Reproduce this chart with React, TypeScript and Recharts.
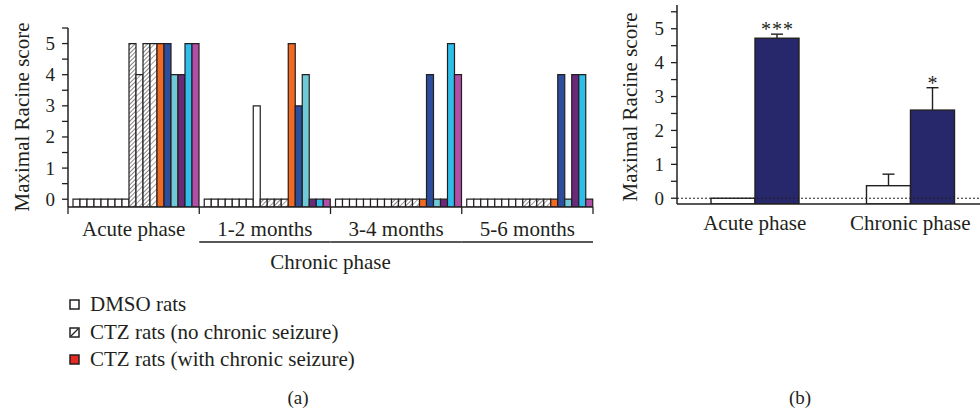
import React from 'react';
import { BarChart, Bar, XAxis, YAxis, ReferenceLine } from 'recharts';

// ---------- Panel (a) data ----------
const phasesA = ['Acute phase', '1-2 months', '3-4 months', '5-6 months'];
// DMSO rats (8 rats), per phase
const dmsoAcute = [0, 0, 0, 0, 0, 0, 0, 0];
const dmso12 = [0, 0, 0, 0, 0, 0, 0, 3];
const dmso34 = [0, 0, 0, 0, 0, 0, 0, 0];
const dmso56 = [0, 0, 0, 0, 0, 0, 0, 0];
// CTZ rats without chronic seizure (4 rats)
const ctzNoAcute = [5, 4, 5, 5];
const ctzNo12 = [0, 0, 0, 0];
const ctzNo34 = [0, 0, 0, 0];
const ctzNo56 = [0, 0, 0, 0];
// CTZ rats with chronic seizure (6 rats)
const ctzWithAcute = [5, 5, 4, 4, 5, 5];
const ctzWith12 = [5, 3, 4, 0, 0, 0];
const ctzWith34 = [0, 4, 0, 0, 5, 4];
const ctzWith56 = [0, 4, 0, 4, 4, 0];
const ctzWithColors = ['#F26A21', '#2C4E9C', '#6FC9D6', '#6B2A79', '#2FBEEA', '#B14FA6'];
const yTicksA = [0, 0.5, 1, 1.5, 2, 2.5, 3, 3.5, 4, 4.5, 5, 5.5];

// ---------- Panel (b) data ----------
const phasesB = ['Acute phase', 'Chronic phase'];
const dmsoMean = [0, 0.37];
const dmsoErr = [0, 0.34];
const ctzMean = [4.72, 2.6];
const ctzErr = [0.12, 0.66];
const ctzStars = ['***', '*'];
const yTicksB = [0, 0.5, 1, 1.5, 2, 2.5, 3, 3.5, 4, 4.5, 5, 5.5];

const Y_MIN_A = -0.25;
const Y_MAX_A = 5.5;
const Y_MIN_B = -0.17;
const Y_MAX_B = 5.7;

const FONT = '"Liberation Serif", "DejaVu Serif", serif';
const INK = '#231f20';
const LABEL_SIZE = 21;
const TICK_SIZE = 19;

const groupsA = [
  [dmsoAcute, ctzNoAcute, ctzWithAcute],
  [dmso12, ctzNo12, ctzWith12],
  [dmso34, ctzNo34, ctzWith34],
  [dmso56, ctzNo56, ctzWith56],
];

const rowsA = phasesA.map((phase, i) => {
  const vals = [...groupsA[i][0], ...groupsA[i][1], ...groupsA[i][2]];
  const row: any = { phase };
  vals.forEach((v, k) => {
    row['r' + k] = [Y_MIN_A, v];
  });
  return row;
});
const nBars = dmsoAcute.length + ctzNoAcute.length + ctzWithAcute.length;
const barFill = (k: number) => {
  if (k < dmsoAcute.length) return '#ffffff';
  if (k < dmsoAcute.length + ctzNoAcute.length) return k % 2 === 0 ? 'url(#hatchA)' : 'url(#hatchB)';
  return ctzWithColors[k - dmsoAcute.length - ctzNoAcute.length];
};

const rowsB = phasesB.map((phase, i) => ({
  phase,
  dmso: [Y_MIN_B, dmsoMean[i]],
  ctz: [Y_MIN_B, ctzMean[i]],
  dmsoMean: dmsoMean[i],
  ctzMean: ctzMean[i],
  dmsoErr: dmsoErr[i],
  ctzErr: ctzErr[i],
  star: ctzStars[i],
}));

const PLOT_W_A = 525;
const HALF_A = PLOT_W_A / phasesA.length / 2;

const TickA = (props: any) => {
  const { x, y, payload, index } = props;
  return (
    <g>
      <text x={x} y={y + 29} textAnchor="middle" fontSize={LABEL_SIZE} fontFamily={FONT} fill={INK}>
        {payload.value}
      </text>
      <line x1={x - HALF_A} x2={x - HALF_A} y1={y} y2={y + 7} stroke={INK} strokeWidth={1.3} />
      {index === phasesA.length - 1 && (
        <line x1={x + HALF_A} x2={x + HALF_A} y1={y} y2={y + 7} stroke={INK} strokeWidth={1.3} />
      )}
      {index > 0 && (
        <line x1={x - HALF_A} x2={x + HALF_A} y1={y + 35} y2={y + 35} stroke={INK} strokeWidth={1.3} />
      )}
      {index === 2 && (
        <text x={x - HALF_A} y={y + 62} textAnchor="middle" fontSize={LABEL_SIZE} fontFamily={FONT} fill={INK}>
          Chronic phase
        </text>
      )}
    </g>
  );
};

const TickB = (props: any) => {
  const { x, y, payload } = props;
  return (
    <text x={x} y={y + 26} textAnchor="middle" fontSize={LABEL_SIZE} fontFamily={FONT} fill={INK}>
      {payload.value}
    </text>
  );
};

const YTick = (props: any) => {
  const { x, y, payload } = props;
  if (!Number.isInteger(payload.value)) return <g />;
  return (
    <text x={x} y={y + 6.5} textAnchor="end" fontSize={TICK_SIZE} fontFamily={FONT} fill={INK}>
      {payload.value}
    </text>
  );
};

const makeErrShape = (meanKey: string, errKey: string, withStar: boolean) => (props: any) => {
  const { x, y, width, height, fill, payload } = props;
  const mean = payload[meanKey];
  const err = payload[errKey];
  const ppu = height / (mean - Y_MIN_B);
  const top = y - err * ppu;
  const cx = x + width / 2;
  return (
    <g>
      <rect x={x} y={y} width={width} height={height} fill={fill} stroke={INK} strokeWidth={1.4} />
      {err > 0 && (
        <g stroke={INK} strokeWidth={1.4}>
          <line x1={cx} x2={cx} y1={y} y2={top} />
          <line x1={cx - 6} x2={cx + 6} y1={top} y2={top} />
        </g>
      )}
      {withStar && payload.star && (
        <text x={cx + 0.5} y={top + 2} textAnchor="middle" fontSize={20} fontFamily={FONT} fill={INK} letterSpacing={1}>
          {payload.star}
        </text>
      )}
    </g>
  );
};

const LegendIcon = ({ kind }: { kind: number }) => (
  <svg width={11} height={11} style={{ display: 'block' }}>
    <rect x={1} y={1} width={9} height={9} fill={kind === 2 ? '#E52A22' : '#fff'} stroke={INK} strokeWidth={1.5} />
    {kind === 1 && <line x1={2} y1={9} x2={9} y2={2} stroke={INK} strokeWidth={1.2} />}
  </svg>
);

const legendItems = ['DMSO rats', 'CTZ rats (no chronic seizure)', 'CTZ rats (with chronic seizure)'];
const legendY = [304, 332, 359];

export default function App() {
  return (
    <div
      style={{
        position: 'absolute',
        left: 0,
        top: 0,
        width: 980,
        height: 416,
        overflow: 'hidden',
        background: '#fff',
        fontFamily: FONT,
        color: INK,
      }}
    >
      <svg width={0} height={0} style={{ position: 'absolute' }}>
        <defs>
          <pattern id="hatchA" patternUnits="userSpaceOnUse" width={3} height={3} patternTransform="rotate(45)">
            <rect width={3} height={3} fill="#fff" />
            <line x1={0} y1={0} x2={0} y2={3} stroke="#333" strokeWidth={1.2} />
          </pattern>
          <pattern id="hatchB" patternUnits="userSpaceOnUse" width={4} height={4} patternTransform="rotate(45)">
            <rect width={4} height={4} fill="#fff" />
            <line x1={0} y1={0} x2={0} y2={4} stroke="#444" strokeWidth={1} />
          </pattern>
        </defs>
      </svg>

      {/* Panel (a) */}
      <div style={{ position: 'absolute', left: 0, top: 0 }}>
        <BarChart
          width={620}
          height={280}
          data={rowsA}
          margin={{ top: 28, right: 27, bottom: 13, left: 0 }}
          barCategoryGap={5}
          barGap={0}
        >
          <XAxis
            dataKey="phase"
            type="category"
            interval={0}
            height={60}
            tickLine={false}
            tickSize={0}
            tickMargin={0}
            axisLine={{ stroke: INK, strokeWidth: 1.5 }}
            tick={<TickA />}
          />
          <YAxis
            type="number"
            domain={[Y_MIN_A, Y_MAX_A]}
            allowDataOverflow
            ticks={yTicksA}
            interval={0}
            width={68}
            tickSize={6}
            tickMargin={7}
            axisLine={{ stroke: INK, strokeWidth: 1.5 }}
            tickLine={{ stroke: INK, strokeWidth: 1.3 }}
            tick={<YTick />}
          />
          {Array.from({ length: nBars }, (_, k) => (
            <Bar
              key={k}
              dataKey={'r' + k}
              fill={barFill(k)}
              stroke={INK}
              strokeWidth={1.2}
              isAnimationActive={false}
            />
          ))}
        </BarChart>
      </div>

      {/* Panel (b) */}
      <div style={{ position: 'absolute', left: 600, top: 0 }}>
        <BarChart
          width={388}
          height={240}
          data={rowsB}
          margin={{ top: 5, right: 0, bottom: 0, left: 0 }}
          barSize={44}
          barGap={0}
        >
          <XAxis
            dataKey="phase"
            type="category"
            interval={0}
            height={36}
            tickLine={false}
            tickSize={0}
            tickMargin={0}
            axisLine={{ stroke: INK, strokeWidth: 1.5 }}
            tick={<TickB />}
          />
          <YAxis
            type="number"
            domain={[Y_MIN_B, Y_MAX_B]}
            allowDataOverflow
            ticks={yTicksB}
            interval={0}
            width={77}
            tickSize={6}
            tickMargin={7}
            axisLine={{ stroke: INK, strokeWidth: 1.5 }}
            tickLine={{ stroke: INK, strokeWidth: 1.3 }}
            tick={<YTick />}
          />
          <ReferenceLine y={0} stroke={INK} strokeDasharray="2 2" strokeWidth={1} />
          <Bar
            dataKey="dmso"
            fill="#ffffff"
            isAnimationActive={false}
            shape={makeErrShape('dmsoMean', 'dmsoErr', false)}
          />
          <Bar
            dataKey="ctz"
            fill="#26286B"
            isAnimationActive={false}
            shape={makeErrShape('ctzMean', 'ctzErr', true)}
          />
        </BarChart>
      </div>

      {/* Static texts */}
      <svg width={980} height={416} style={{ position: 'absolute', left: 0, top: 0, pointerEvents: 'none' }}>
        <text
          x={0}
          y={0}
          transform="translate(29,117) rotate(-90)"
          textAnchor="middle"
          fontSize={LABEL_SIZE}
          fontFamily={FONT}
          fill={INK}
        >
          Maximal Racine score
        </text>
        <text
          x={0}
          y={0}
          transform="translate(637,107) rotate(-90)"
          textAnchor="middle"
          fontSize={LABEL_SIZE}
          fontFamily={FONT}
          fill={INK}
        >
          Maximal Racine score
        </text>
        <text x={298} y={404} textAnchor="middle" fontSize={TICK_SIZE} fontFamily={FONT} fill={INK}>
          (a)
        </text>
        <text x={800} y={404} textAnchor="middle" fontSize={TICK_SIZE} fontFamily={FONT} fill={INK}>
          (b)
        </text>
      </svg>

      {legendItems.map((t, i) => (
        <div
          key={t}
          style={{
            position: 'absolute',
            left: 69,
            top: legendY[i] - 13,
            height: 26,
            display: 'flex',
            alignItems: 'center',
            fontSize: LABEL_SIZE,
            lineHeight: '26px',
            whiteSpace: 'nowrap',
          }}
        >
          <LegendIcon kind={i} />
          <span style={{ marginLeft: 10 }}>{t}</span>
        </div>
      ))}
    </div>
  );
}
